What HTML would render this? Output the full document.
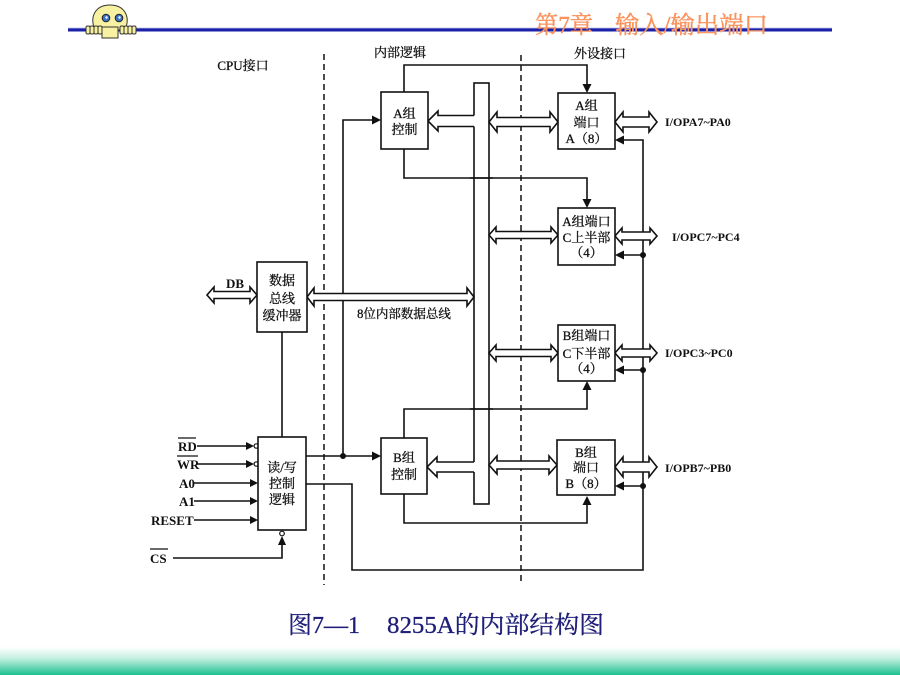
<!DOCTYPE html>
<html>
<head>
<meta charset="utf-8">
<style>
html,body{margin:0;padding:0;background:#fff;}
body{width:900px;height:675px;overflow:hidden;position:relative;}
svg{position:absolute;left:0;top:0;}
.t{font-family:"Liberation Serif","Noto Serif CJK SC",serif;fill:#111;}
.k{stroke:#111;stroke-width:0.3;}
.b{font-weight:bold;}
</style>
</head>
<body>
<svg width="900" height="675" viewBox="0 0 900 675" xmlns="http://www.w3.org/2000/svg">
<defs>
<linearGradient id="g" x1="0" y1="0" x2="0" y2="1">
<stop offset="0" stop-color="#ffffff"/>
<stop offset="0.4" stop-color="#c6f0e1"/>
<stop offset="1" stop-color="#1cc08f"/>
</linearGradient>
</defs>

<!-- header -->
<rect x="68" y="28.5" width="764" height="3" fill="#1c22a8"/>
<rect x="68" y="27.8" width="764" height="0.8" fill="#7f86d8"/>
<!-- logo -->
<g stroke="#333" stroke-width="1" fill="#f8f1a2">
<path d="M95,30 C89,16 96,5 110,5 C124,5 131,16 125,30 Z"/>
<rect x="102" y="27" width="16" height="11"/>
<rect x="86" y="26" width="4" height="8" rx="1.5"/>
<rect x="90" y="26" width="4" height="8" rx="1.5"/>
<rect x="94" y="26" width="4" height="8" rx="1.5"/>
<rect x="98" y="26" width="4" height="8" rx="1.5"/>
<rect x="120" y="26" width="4" height="8" rx="1.5"/>
<rect x="124" y="26" width="4" height="8" rx="1.5"/>
<rect x="128" y="26" width="4" height="8" rx="1.5"/>
<rect x="132" y="26" width="4" height="8" rx="1.5"/>
</g>
<circle cx="106" cy="18" r="3.8" fill="#3d74c8" stroke="#222" stroke-width="1"/>
<circle cx="119" cy="18" r="3.8" fill="#3d74c8" stroke="#222" stroke-width="1"/>
<circle cx="106.5" cy="17.5" r="1.2" fill="#fff"/>
<circle cx="119.5" cy="17.5" r="1.2" fill="#fff"/>

<text x="535" y="33" font-size="24" fill="#fb925c" stroke="#fb925c" stroke-width="0.4" font-family="Liberation Serif,Noto Serif CJK SC,serif" textLength="58" lengthAdjust="spacingAndGlyphs">第7章</text>
<text x="615" y="33" font-size="24" fill="#fb925c" stroke="#fb925c" stroke-width="0.4" font-family="Liberation Serif,Noto Serif CJK SC,serif" textLength="153" lengthAdjust="spacingAndGlyphs">输入/输出端口</text>

<!-- section labels -->
<text class="t k" x="243" y="70" font-size="13" text-anchor="middle">CPU接口</text>
<text class="t k" x="400" y="57" font-size="13" text-anchor="middle">内部逻辑</text>
<text class="t k" x="600" y="58" font-size="13" text-anchor="middle">外设接口</text>

<!-- dashed separators -->
<g stroke="#111" stroke-width="1.5" stroke-dasharray="6,4">
<line x1="324" y1="54" x2="324" y2="585"/>
<line x1="521" y1="55" x2="521" y2="583"/>
</g>

<!-- bus bar -->
<rect x="474" y="83" width="15" height="421" fill="#fff" stroke="#111" stroke-width="1.6"/>

<!-- connector lines -->
<g fill="none" stroke="#111" stroke-width="1.6">
<polyline points="404,92 404,65 587,65 587,86"/>
<polyline points="404,149 404,178 587,178 587,201"/>
<polyline points="404,438 404,409 587,409 587,388"/>
<polyline points="404,494 404,523 587,523 587,503"/>
<polyline points="343,456 343,120 374,120"/>
<polyline points="306,456 374,456"/>
<polyline points="306,484 352,484 352,570 643,570 643,140 622,140"/>
<line x1="643" y1="255" x2="622" y2="255"/>
<line x1="643" y1="370" x2="622" y2="370"/>
<line x1="643" y1="486" x2="622" y2="486"/>
<line x1="282" y1="332" x2="282" y2="437"/>
<line x1="197" y1="446" x2="248" y2="446"/>
<line x1="197" y1="464" x2="248" y2="464"/>
<line x1="194" y1="483" x2="251" y2="483"/>
<line x1="194" y1="501" x2="251" y2="501"/>
<line x1="194" y1="520" x2="251" y2="520"/>
<polyline points="173,558 282,558 282,544"/>
</g>

<!-- filled arrowheads -->
<g fill="#111">
<polygon points="381,120 372,115.5 372,124.5"/>
<polygon points="381,456 372,451.5 372,460.5"/>
<polygon points="587,93 582.5,84 591.5,84"/>
<polygon points="587,208 582.5,199 591.5,199"/>
<polygon points="587,381 582.5,390 591.5,390"/>
<polygon points="587,496 582.5,505 591.5,505"/>
<polygon points="615,140 624,135.5 624,144.5"/>
<polygon points="615,255 624,250.5 624,259.5"/>
<polygon points="615,370 624,365.5 624,374.5"/>
<polygon points="615,486 624,481.5 624,490.5"/>
<polygon points="254,446 246,442 246,450"/>
<polygon points="254,464 246,460 246,468"/>
<polygon points="258,483 250,479 250,487"/>
<polygon points="258,501 250,497 250,505"/>
<polygon points="258,520 250,516 250,524"/>
<polygon points="282,536 278,545 286,545"/>
<circle cx="343" cy="456" r="3"/>
<circle cx="643" cy="255" r="3"/>
<circle cx="643" cy="370" r="3"/>
<circle cx="643" cy="486" r="3"/>
</g>
<g fill="#fff" stroke="#111" stroke-width="1.2">
<circle cx="256.3" cy="446" r="2.2"/>
<circle cx="256.3" cy="464" r="2.2"/>
<circle cx="282" cy="533.5" r="2.3"/>
</g>

<!-- hollow double arrows -->
<g fill="#fff" stroke="#111" stroke-width="1.6" stroke-linejoin="miter">
<path d="M207,295 L214,287 L214,291.5 L250,291.5 L250,287 L257,295 L250,303 L250,298.5 L214,298.5 L214,303 Z"/>
<path d="M307,297 L314,288 L314,293.5 L467,293.5 L467,288 L474,297 L467,306 L467,300.5 L314,300.5 L314,306 Z"/>
<path d="M489,122 L497,112 L497,117.5 L550,117.5 L550,112 L558,122 L550,132 L550,126.5 L497,126.5 L497,132 Z"/>
<path d="M615,122 L623,112 L623,117 L649,117 L649,112 L657,122 L649,132 L649,127 L623,127 L623,132 Z"/>
<path d="M489,235 L496,227 L496,231.5 L551,231.5 L551,227 L558,235 L551,243 L551,238.5 L496,238.5 L496,243 Z"/>
<path d="M615,236 L622,228 L622,232 L650,232 L650,228 L657,236 L650,244 L650,240 L622,240 L622,244 Z"/>
<path d="M489,353 L496,345 L496,349.5 L551,349.5 L551,345 L558,353 L551,361 L551,356.5 L496,356.5 L496,361 Z"/>
<path d="M615,353 L622,345 L622,349 L650,349 L650,345 L657,353 L650,361 L650,357 L622,357 L622,361 Z"/>
<path d="M489,465 L497,456 L497,461 L549,461 L549,456 L557,465 L549,474 L549,469 L497,469 L497,474 Z"/>
<path d="M615,467 L623,457 L623,462 L649,462 L649,457 L657,467 L649,477 L649,472 L623,472 L623,477 Z"/>
</g>

<!-- hollow single arrows into control boxes -->
<g fill="#fff" stroke="none">
<path d="M428,121 L438,111 L438,115.5 L476,115.5 L476,126.5 L438,126.5 L438,131 Z"/>
<path d="M427,467 L437,457 L437,462 L476,462 L476,472 L437,472 L437,477 Z"/>
</g>
<g fill="none" stroke="#111" stroke-width="1.6">
<path d="M474,115.5 L438,115.5 L438,111 L428,121 L438,131 L438,126.5 L474,126.5"/>
<path d="M474,462 L437,462 L437,457 L427,467 L437,477 L437,472 L474,472"/>
</g>

<!-- lines crossing bus bar drawn on top -->
<g stroke="#111" stroke-width="1.6">
<line x1="470" y1="178" x2="493" y2="178"/>
<line x1="470" y1="409" x2="493" y2="409"/>
</g>

<!-- boxes -->
<g fill="#fff" stroke="#111" stroke-width="1.6">
<rect x="381" y="92" width="47" height="57"/>
<rect x="381" y="438" width="46" height="56"/>
<rect x="558" y="93" width="57" height="56"/>
<rect x="558" y="208" width="57" height="57"/>
<rect x="558" y="325" width="57" height="56"/>
<rect x="557" y="440" width="58" height="55"/>
<rect x="257" y="262" width="50" height="70"/>
<rect x="258" y="437" width="48" height="93"/>
</g>

<!-- box texts -->
<g class="t k" font-size="13" text-anchor="middle">
<text x="404.5" y="118">A组</text>
<text x="404.5" y="134">控制</text>
<text x="404" y="462">B组</text>
<text x="404" y="479">控制</text>
<text x="586.5" y="110">A组</text>
<text x="586.5" y="127">端口</text>
<text x="586.5" y="143">A（8）</text>
<text x="586.5" y="226">A组端口</text>
<text x="586.5" y="242">C上半部</text>
<text x="586.5" y="257">（4）</text>
<text x="586.5" y="340">B组端口</text>
<text x="586.5" y="358">C下半部</text>
<text x="586.5" y="373">（4）</text>
<text x="586" y="457">B组</text>
<text x="586" y="472">端口</text>
<text x="586" y="488">B（8）</text>
<text x="282" y="285">数据</text>
<text x="282" y="303">总线</text>
<text x="282" y="320">缓冲器</text>
<text x="282" y="472">读/写</text>
<text x="282" y="488">控制</text>
<text x="282" y="504">逻辑</text>
</g>

<!-- other labels -->
<g class="t b" font-size="12">
<text x="665" y="126">I/OPA7~PA0</text>
<text x="672" y="241">I/OPC7~PC4</text>
<text x="665" y="357">I/OPC3~PC0</text>
<text x="665" y="472">I/OPB7~PB0</text>
</g>
<text class="t k" x="404" y="318" font-size="12.5" text-anchor="middle">8位内部数据总线</text>
<g class="t b" font-size="13">
<text x="226" y="288">DB</text>
<text x="178" y="451">RD</text>
<text x="177" y="469">WR</text>
<text x="179" y="488">A0</text>
<text x="179" y="506">A1</text>
<text x="151" y="525">RESET</text>
<text x="150" y="563">CS</text>
</g>
<g stroke="#111" stroke-width="1.2">
<line x1="178" y1="438" x2="196" y2="438"/>
<line x1="177" y1="456" x2="198" y2="456"/>
<line x1="150" y1="549" x2="168" y2="549"/>
</g>

<!-- caption -->
<text x="288" y="633" font-size="24" fill="#1e1e78" stroke="#1e1e78" stroke-width="0.3" font-family="Liberation Serif,Noto Serif CJK SC,serif" textLength="72" lengthAdjust="spacingAndGlyphs">图7—1</text>
<text x="387" y="633" font-size="24" fill="#1e1e78" stroke="#1e1e78" stroke-width="0.3" font-family="Liberation Serif,Noto Serif CJK SC,serif" textLength="217" lengthAdjust="spacingAndGlyphs">8255A的内部结构图</text>

<!-- bottom gradient -->
<rect x="0" y="647" width="900" height="28" fill="url(#g)"/>
</svg>
</body>
</html>
